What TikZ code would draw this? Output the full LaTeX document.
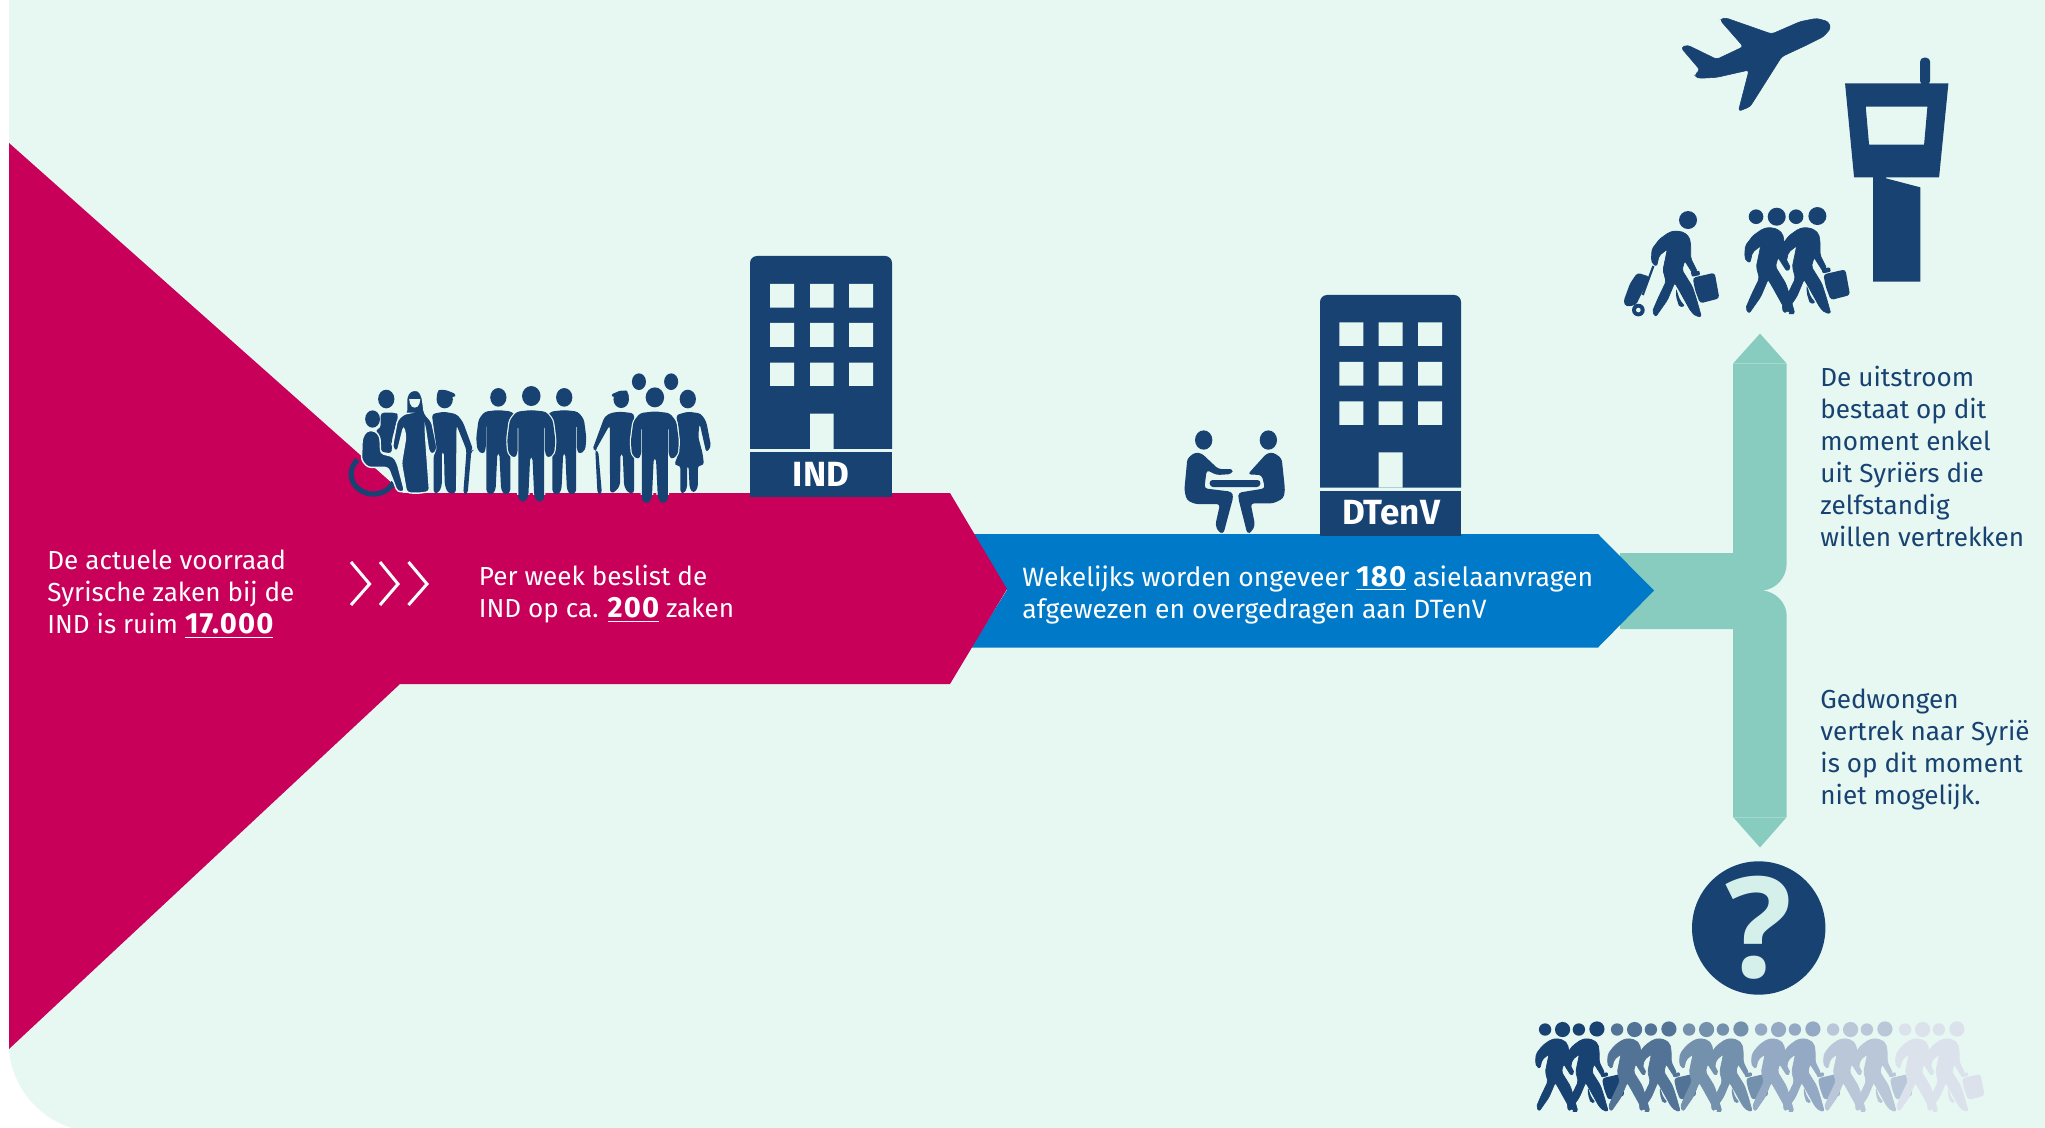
\documentclass[tikz,border=0pt]{standalone}
\usepackage{fontspec}
\setmainfont{Fira Sans}
\newfontfamily\qfont{Open Sans}
\definecolor{bgmint}{HTML}{E7F7F2}
\definecolor{magen}{HTML}{C8005A}
\definecolor{azure}{HTML}{0079C8}
\definecolor{navy}{HTML}{174271}
\definecolor{teal}{HTML}{88CBBF}
\definecolor{qmark}{HTML}{D5F0EA}
\newcommand{\keynum}[1]{\underline{\fontsize{14.6}{16}\selectfont\bfseries\addfontfeature{LetterSpace=4}#1}}
\tikzset{
 bodytext/.style={anchor=north west,align=left,inner sep=0pt,font=\fontsize{13.05}{16}\selectfont},
 bluetext/.style={bodytext,text=navy},
 whitetext/.style={bodytext,text=white},
 widetext/.style={bodytext,text=white,font=\fontsize{13.25}{16}\selectfont},
 labeltext/.style={text=white,inner sep=0pt,font=\fontsize{17.5}{18}\selectfont\bfseries},
 rc/.style={rounded corners=1.6pt},
 person/.style={fill=navy,rc},
 halo/.style={draw=bgmint,line width=1.2pt,rc},
}
\newcommand{\wkbody}[3]{\path[fill=#3,draw=#3,line width=.35pt,line join=round,rounded corners=1pt,shift={(#1,#2)}]
 (615,682)--(640,687)--(656,702)--(660,725)--(660,765)--(680,805)--(668,813)--(642,772)--(634,800)--(665,850)--(678,890)--(692,940)--(675,938)--(660,923)--(625,860)--(612,838)--(590,890)--(555,940)--(545,925)--(562,885)--(586,835)--(577,800)--(590,737)--(565,757)--(558,788)--(547,783)--(542,770)--(544,737)--(567,707)--(595,687)--cycle;}
\newcommand{\wkcase}[3]{\begin{scope}[shift={(#1,#2)}]
 \fill[#3,rounded corners=1pt] (620,855)--(632,890)--(647,908)--(630,912)--(620,880)--cycle;
 \fill[#3,rounded corners=1.5pt] (670,823)--(736,808)--(750,885)--(692,900)--(677,860)--cycle;
 \fill[#3,rounded corners=0.5pt] (664,805)--(690,802)--(692,815)--(668,820)--cycle;
 \end{scope}}
\newcommand{\wkgroup}[1]{
 \fill[#1] (468,650) circle[radius=22];
 \fill[#1] (530,650) circle[radius=27];
 \fill[#1] (588,650) circle[radius=22];
 \fill[#1] (652,648) circle[radius=27];
 \wkbody{-108}{0}{#1}
 \wkcase{0}{0}{#1}
 \fill[#1] (566,942)--(582,942)--(574,927)--cycle;
 \wkbody{0}{0}{#1}}
\newcommand{\stand}[4]{\begin{scope}[shift={(#1,#2)},scale=#3]
 \path[#4] (-40,5)--(0,0)--(40,5)--(58,30)--(65,90)--(62,130)--(45,145)--(37,130)--(37,45)--(35,45)--(35,270)--(18,277)--(8,260)--(3,140)--(-3,140)--(-8,260)--(-18,277)--(-35,270)--(-35,45)--(-37,45)--(-37,130)--(-45,145)--(-62,130)--(-65,90)--(-58,30)--cycle;
 \end{scope}}
\begin{document}
\begin{tikzpicture}[x=0.5pt,y=-0.5pt]
\useasboundingbox (0,0) rectangle (2045,1128);
\fill[white] (0,0) rectangle (2045,1128);
\fill[bgmint] (9,0)--(2045,0)--(2045,1128)--(72,1128) .. controls (40,1118) and (13,1090) .. (9,1050)--cycle;
% teal arrows
\fill[teal] (1620,553)--(1733,553)--(1733,363.6)--(1760,333.6)--(1786.7,363.6)--(1786.7,563)
 .. controls (1786.7,578) and (1776,589) .. (1763,590.5)
 .. controls (1776,592) and (1786.7,603) .. (1786.7,616)
 --(1786.7,817)--(1760,847.5)--(1733,817)--(1733,629)--(1620,629)--cycle;
\draw[white,opacity=.25,line width=.4pt] (1733,363.6)--(1786.7,363.6) (1733,817)--(1786.7,817);
% blue and magenta bars
\fill[azure] (971,534)--(1598,534)--(1654,590.5)--(1598,647.5)--(971,647.5)--(1007,590)--cycle;
\fill[magen] (9,143)--(403,493)--(950,493)--(1007,589)--(950,684)--(400,684)--(9,1049)--cycle;
% crowd
\begin{scope}[shift={(340,240)},x=0.185pt,y=-0.1667pt]
 \draw[navy,line width=2.6pt] (90,702) ++(225:60) arc[start angle=225,end angle=25,radius=60];
 \fill[navy] (125,477) ellipse[x radius=22,y radius=28];
 \path[person] (110,518)--(150,518)--(158,525)--(140,600)--(140,640)--(110,635)--(108,590)--(95,570)--(110,565)--cycle;
 \fill[navy] (88,537) ellipse[x radius=20,y radius=26];
 \path[person,draw=bgmint,line width=.7pt] (58,660)--(60,595)--(72,572)--(95,572)--(108,590)--(110,640)--(145,650)--(155,670)--(175,755)--(155,755)--(130,682)--(75,682)--cycle;
 \path[person,draw=bgmint,line width=.7pt] (180,520)--(180,470)--(190,452)--(212,450)--(222,470)--(228,520)--(248,545)--(262,620)--(262,630)--(250,645)--(240,635)--(230,560)--(232,600)--(242,755)--(210,760)--(180,758)--(166,670)--(178,590)--(172,560)--(155,635)--(145,630)--(142,618)--(155,540)--(175,520)--cycle;
 \fill[bgmint] (187,477)--(217,477)--(215,490) .. controls (212,507) and (192,507) .. (189,490)--cycle;
 \fill[navy] (283,478) ellipse[x radius=22,y radius=27];
 \path[person] (262,480)--(262,455)--(272,447)--(300,455)--(316,465)--(305,472)--(262,480)--cycle;
 \path[person] (248,522)--(280,515)--(315,522)--(332,545)--(360,630)--(355,632)--(345,762)--(333,762)--(342,630)--(315,555)--(313,760)--(292,760)--(283,735)--(281,635)--(275,635)--(275,740)--(265,760)--(253,760)--(253,645)--(262,630)--(258,600)--cycle;
 \fill[navy] (428,472) ellipse[x radius=22,y radius=28];
 \fill[navy] (606,472) ellipse[x radius=22,y radius=28];
 \stand{428}{510}{0.92}{person}
 \stand{606}{510}{0.92}{person}
 \fill[navy] (517,468) ellipse[x radius=25,y radius=30];
 \begin{scope}
  \clip (300,400) rectangle (1100,762);
  \stand{517}{510}{1}{halo}
 \end{scope}
 \stand{517}{510}{1}{person}
 \fill[navy] (808,425) ellipse[x radius=19,y radius=25];
 \fill[navy] (895,425) ellipse[x radius=19,y radius=25];
 \fill[navy] (760,478) ellipse[x radius=21,y radius=26];
 \path[person] (781,480)--(779,455)--(770,450)--(745,457)--(730,465)--(742,472)--cycle;
 \path[person] (795,520)--(760,515)--(733,518)--(715,530)--(682,630)--(698,632)--(708,762)--(696,762)--(690,632)--(729,555)--(730,760)--(745,755)--(757,735)--(758,640)--(764,640)--(768,740)--(780,760)--(795,760)--cycle;
 \fill[navy] (940,477) ellipse[x radius=22,y radius=28];
 \path[person] (908,525)--(940,515)--(975,520)--(990,545)--(1003,620)--(990,638)--(972,550)--(968,590)--(980,640)--(984,676)--(967,676)--(967,745)--(955,760)--(945,745)--(942,676)--(938,676)--(938,745)--(930,760)--(920,760)--(920,676)--(903,676)--(915,640)--(915,560)--cycle;
 \fill[navy] (851,472) ellipse[x radius=25,y radius=30];
 \begin{scope}
  \clip (300,400) rectangle (1100,762);
  \stand{851}{514}{1}{halo}
 \end{scope}
 \stand{851}{514}{1}{person}
\end{scope}
% IND building
\fill[navy] [rounded corners=3.5pt] (750,449)--(750,256)--(892,256) [sharp corners] --(892,449)--cycle;
\fill[bgmint] (770,284) rectangle (794,307.7) (810,284) rectangle (833.5,307.7) (849,284) rectangle (873,307.7)
 (770,323) rectangle (794,347) (810,323) rectangle (833.5,347) (849,323) rectangle (873,347)
 (770,362.7) rectangle (794,386) (810,362.7) rectangle (833.5,386) (849,362.7) rectangle (873,386)
 (810,413.7) rectangle (833.5,449);
\fill[navy] (750,452) rectangle (892,497);
\node[labeltext] (indlabel) at (821,474) {IND};
% table scene
\begin{scope}[shift={(1150,280)},x=0.1667pt,y=-0.1667pt]
 \fill[navy] (161,480) ellipse[x radius=26,y radius=29];
 \fill[navy] (355,480) ellipse[x radius=26,y radius=29];
 \path[person] (103,630)--(112,535)--(135,517)--(155,520)--(205,567)--(250,567)--(245,582)--(200,585)--(170,570)--(163,625)--(245,635)--(250,650)--(220,762)--(205,755)--(196,735)--(210,672)--(135,672)--(110,660)--cycle;
 \path[person] (405,630)--(395,535)--(370,517)--(350,520)--(293,583)--(335,585)--(345,625)--(265,638)--(265,655)--(292,762)--(305,755)--(315,735)--(302,670)--(370,670)--(400,655)--cycle;
 \path[person] (178,600)--(332,600)--(330,621)--(180,621)--cycle;
\end{scope}
% DTenV building
\fill[navy] [rounded corners=3.5pt] (1320,487.7)--(1320,295)--(1461,295) [sharp corners] --(1461,487.7)--cycle;
\fill[bgmint] (1339.3,322.3) rectangle (1363.3,346) (1378.7,322.3) rectangle (1402.7,346) (1418,322.3) rectangle (1442,346)
 (1339.3,362) rectangle (1363.3,385.7) (1378.7,362) rectangle (1402.7,385.7) (1418,362) rectangle (1442,385.7)
 (1339.3,401.3) rectangle (1363.3,425) (1378.7,401.3) rectangle (1402.7,425) (1418,401.3) rectangle (1442,425)
 (1378.7,452.3) rectangle (1402.7,487.7);
\fill[navy] (1320,491) rectangle (1461,536);
\node[labeltext] (dtenvlabel) at (1391,513) {DTenV};
% airport scene
\begin{scope}[shift={(1600,0)},x=0.1667pt,y=-0.1667pt]
 \path[fill=navy,draw=navy,line width=.3pt,rounded corners=1.5pt] (360,60)--(375,53)--(515,102)--(600,65)--(650,55)--(685,65)--(692,85)--(670,110)--(620,135)--(545,170)--(450,320)--(415,334)--(447,210)--(350,232)--(295,235)--(283,225)--(300,210)--(243,143)--(262,135)--(350,178)--(430,140)--cycle;
 \fill[navy,rounded corners=2pt] (960,255)--(960,173)--(990,173)--(990,255)--cycle;
 \fill[navy,even odd rule] (735,250)--(1045,250)--(1017,532)--(762,532)--cycle (797,320)--(982,320)--(972,434)--(807,434)--cycle;
 \fill[navy] (819,530)--(858,530)--(858,535)--(961,562)--(961,845)--(819,845)--cycle;
 \fill[navy] (264,660) circle[radius=27];
 \wkcase{-392}{10}{navy}
 \wkbody{-388}{10}{navy}
 \fill[navy,rounded corners=1.5pt] (112,818)--(150,830)--(125,880)--(108,915)--(78,920)--(70,905)--(90,850)--cycle;
 \draw[navy,line width=1.1pt] (160,798)--(128,885);
 \fill[navy] (115,930) circle[radius=19];
 \fill[bgmint] (115,930) circle[radius=7];
 \wkgroup{navy}
\end{scope}
% question mark
\fill[navy] (1758.7,928) circle[radius=66.7];
\node[text=qmark,inner sep=0pt,font=\qfont\bfseries\fontsize{70}{70}\selectfont] (qm) at (1759,928) {?};
% walkers row
\foreach \g/\c in {0/174271,1/527396,2/7390AD,3/94A9C3,4/B9C7D8,5/DBE2EC}{
 \definecolor{wk}{HTML}{\c}
 \begin{scope}[shift={(1413.3+72*\g,846.5)},x=0.1408pt,y=-0.1408pt]
  \wkgroup{wk}
 \end{scope}
}
% chevrons
\draw[white,line width=1.5pt,line join=miter] (351,562)--(369.6,584)--(351,605) (380,562)--(398,584)--(380,605) (408.5,562)--(427,584)--(408.5,605);
% texts
\node[whitetext] (t1) at (47,550) {De actuele voorraad\\Syrische zaken bij de\\IND is ruim \keynum{17.000}};
\node[whitetext] (t2) at (478.5,565) {Per week beslist de\\IND op ca. \keynum{200} zaken};
\node[widetext] (t3) at (1022,565) {Wekelijks worden ongeveer \keynum{180} asielaanvragen\\afgewezen en overgedragen aan DTenV};
\node[bluetext] (t4) at (1820,366) {De uitstroom\\bestaat op dit\\moment enkel\\uit Syriërs die\\zelfstandig\\willen vertrekken};
\node[bluetext] (t5) at (1820,689) {Gedwongen\\vertrek naar Syrië\\is op dit moment\\niet mogelijk.};
\end{tikzpicture}
\end{document}
